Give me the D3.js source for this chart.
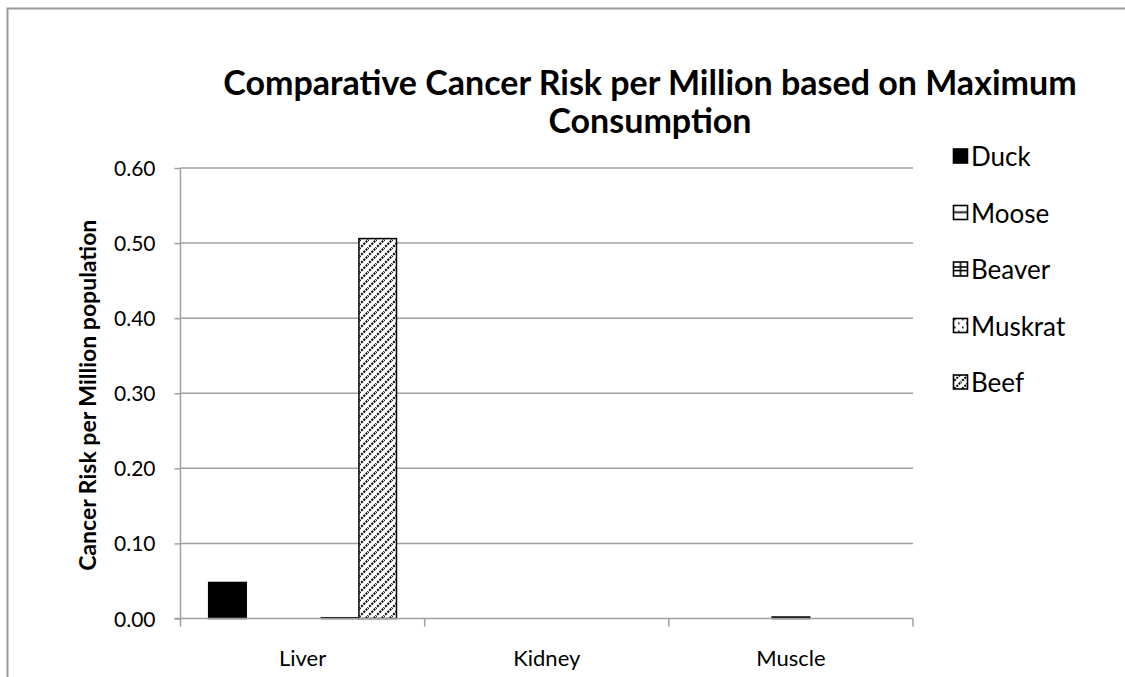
<!DOCTYPE html>
<html>
<head>
<meta charset="utf-8">
<script src="https://cdn.jsdelivr.net/npm/d3@7"></script>
<style>
  html, body { margin: 0; padding: 0; background: #fff; }
  svg text { font-family: Lato, "Open Sans", sans-serif; fill: #000; }
</style>
</head>
<body>
<svg id="chart" width="1125" height="677"></svg>
<script>
// Chart data
const categories = ["Liver", "Kidney", "Muscle"];
const seriesNames = ["Duck", "Moose", "Beaver", "Muskrat", "Beef"];
const duck    = [0.048, 0, 0];
const moose   = [0, 0, 0];
const beaver  = [0, 0, 0.002];
const muskrat = [0.001, 0, 0];
const beef    = [0.506, 0, 0];
const yTicks  = [0, 0.1, 0.2, 0.3, 0.4, 0.5, 0.6];
const titleLines = ["Comparative Cancer Risk per Million based on Maximum", "Consumption"];
const yTitle = "Cancer Risk per Million population";

const seriesValues = [duck, moose, beaver, muskrat, beef];

const svg = d3.select("#chart");

// Outer frame
svg.append("path")
  .attr("d", "M7.5,677 V8.5 H1125")
  .attr("fill", "none").attr("stroke", "#999").attr("stroke-width", 2);

// Fill patterns
const defs = svg.append("defs");
function pattern(id, size, draw) {
  const p = defs.append("pattern").attr("id", id)
    .attr("patternUnits", "userSpaceOnUse").attr("width", size).attr("height", size);
  p.append("rect").attr("width", size).attr("height", size).attr("fill", "#fff");
  draw(p);
}
// Box-relative patterns (one motif per shape)
function boxPattern(id, draw) {
  const p = defs.append("pattern").attr("id", id)
    .attr("patternUnits", "objectBoundingBox").attr("patternContentUnits", "objectBoundingBox")
    .attr("width", 1).attr("height", 1);
  p.append("rect").attr("width", 1).attr("height", 1).attr("fill", "#fff");
  draw(p);
}
boxPattern("pMoose", p => {
  p.append("rect").attr("x", 0).attr("y", 0.42).attr("width", 1).attr("height", 0.12).attr("fill", "#000");
});
boxPattern("pBeaver", p => {
  p.append("rect").attr("x", 0).attr("y", 0.3).attr("width", 1).attr("height", 0.11).attr("fill", "#000");
  p.append("rect").attr("x", 0).attr("y", 0.56).attr("width", 1).attr("height", 0.11).attr("fill", "#000");
  p.append("rect").attr("x", 0.45).attr("y", 0).attr("width", 0.11).attr("height", 1).attr("fill", "#000");
});
pattern("pMuskrat", 8, p => {
  p.append("rect").attr("x", 1).attr("y", 1).attr("width", 1.6).attr("height", 1.6).attr("fill", "#000");
  p.append("rect").attr("x", 5).attr("y", 5).attr("width", 1.6).attr("height", 1.6).attr("fill", "#000");
});
pattern("pBeef", 8, p => {
  p.append("path").attr("d", "M-1,9 L9,-1 M-1,1 L1,-1 M7,9 L9,7")
    .attr("stroke", "#000").attr("stroke-width", 2).attr("stroke-dasharray", "2,1.2");
});
const fills = ["#000", "url(#pMoose)", "url(#pBeaver)", "url(#pMuskrat)", "url(#pBeef)"];

// Plot geometry
const plotLeft = 180.5, plotRight = 913, plotTop = 168, plotBottom = 618.5;

const x0 = d3.scaleBand().domain(categories).range([plotLeft, plotRight]).paddingInner(0).paddingOuter(0);
const x1 = d3.scaleBand().domain(seriesNames).range([0, x0.bandwidth()]).paddingInner(0).paddingOuter(0.75);
const y = d3.scaleLinear().domain([0, 0.6]).range([plotBottom, plotTop]);

// Gridlines
svg.append("g").selectAll("line").data(yTicks.filter(d => d > 0)).join("line")
  .attr("x1", plotLeft).attr("x2", plotRight)
  .attr("y1", d => y(d)).attr("y2", d => y(d))
  .attr("stroke", "#a0a0a0").attr("stroke-width", 1.5);

// Y axis
const yAxis = svg.append("g").attr("transform", `translate(${plotLeft},0)`)
  .call(d3.axisLeft(y).tickValues(yTicks).tickFormat(d3.format(".2f")).tickSize(6).tickPadding(19));
yAxis.select(".domain").attr("stroke", "#a0a0a0").attr("stroke-width", 1.5).attr("d", `M0,${plotTop}V${plotBottom}`);
yAxis.selectAll(".tick line").attr("stroke", "#a0a0a0").attr("stroke-width", 1.5);
yAxis.selectAll(".tick text").attr("font-size", 21).attr("dy", "0.36em")
  .style("font-family", "Lato, 'Open Sans', sans-serif");

// Bars
const groups = svg.append("g").selectAll("g")
  .data(seriesNames.map((name, i) => ({ name, i, values: seriesValues[i] })))
  .join("g");
groups.selectAll("rect")
  .data(s => s.values.map((v, j) => ({ name: s.name, i: s.i, cat: categories[j], v })).filter(d => d.v > 0))
  .join("rect")
  .attr("x", d => x0(d.cat) + x1(d.name))
  .attr("width", x1.bandwidth())
  .attr("y", d => y(d.v))
  .attr("height", d => y(0) - y(d.v))
  .attr("fill", d => fills[d.i])
  .attr("stroke", "#000").attr("stroke-width", 1.5);

// X axis
const xAxis = svg.append("g").attr("transform", `translate(0,${plotBottom})`)
  .call(d3.axisBottom(x0).tickSize(0).tickPadding(32));
xAxis.select(".domain").remove();
svg.append("line").attr("x1", plotLeft - 6).attr("x2", plotRight).attr("y1", plotBottom).attr("y2", plotBottom)
  .attr("stroke", "#a0a0a0").attr("stroke-width", 1.5);
svg.append("g").selectAll("line")
  .data(categories.map(c => x0(c)).concat([plotRight]))
  .join("line")
  .attr("x1", d => d).attr("x2", d => d).attr("y1", plotBottom).attr("y2", plotBottom + 8)
  .attr("stroke", "#a0a0a0").attr("stroke-width", 1.5);
xAxis.selectAll(".tick text").attr("font-size", 22)
  .style("font-family", "Lato, 'Open Sans', sans-serif");

// Y axis title
svg.append("text")
  .attr("transform", `translate(96,${(plotTop + plotBottom) / 2 + 2}) rotate(-90)`)
  .attr("text-anchor", "middle")
  .attr("font-size", 23).attr("font-weight", "bold")
  .text(yTitle);

// Chart title
svg.append("g").selectAll("text").data(titleLines).join("text")
  .attr("x", 650).attr("y", (d, i) => 95 + i * 38)
  .attr("text-anchor", "middle")
  .attr("font-size", 34).attr("font-weight", "bold")
  .text(d => d);

// Legend
const legend = svg.append("g").selectAll("g").data(seriesNames).join("g")
  .attr("transform", (d, i) => `translate(953,${156 + i * 56.5})`);
legend.append("rect")
  .attr("x", 0.5).attr("y", -7).attr("width", 14).attr("height", 14)
  .attr("fill", (d, i) => fills[i]).attr("stroke", "#000").attr("stroke-width", 1.6);
legend.append("text")
  .attr("x", 18).attr("y", 1).attr("dy", "0.36em")
  .attr("font-size", 26)
  .text(d => d);
</script>
</body>
</html>
